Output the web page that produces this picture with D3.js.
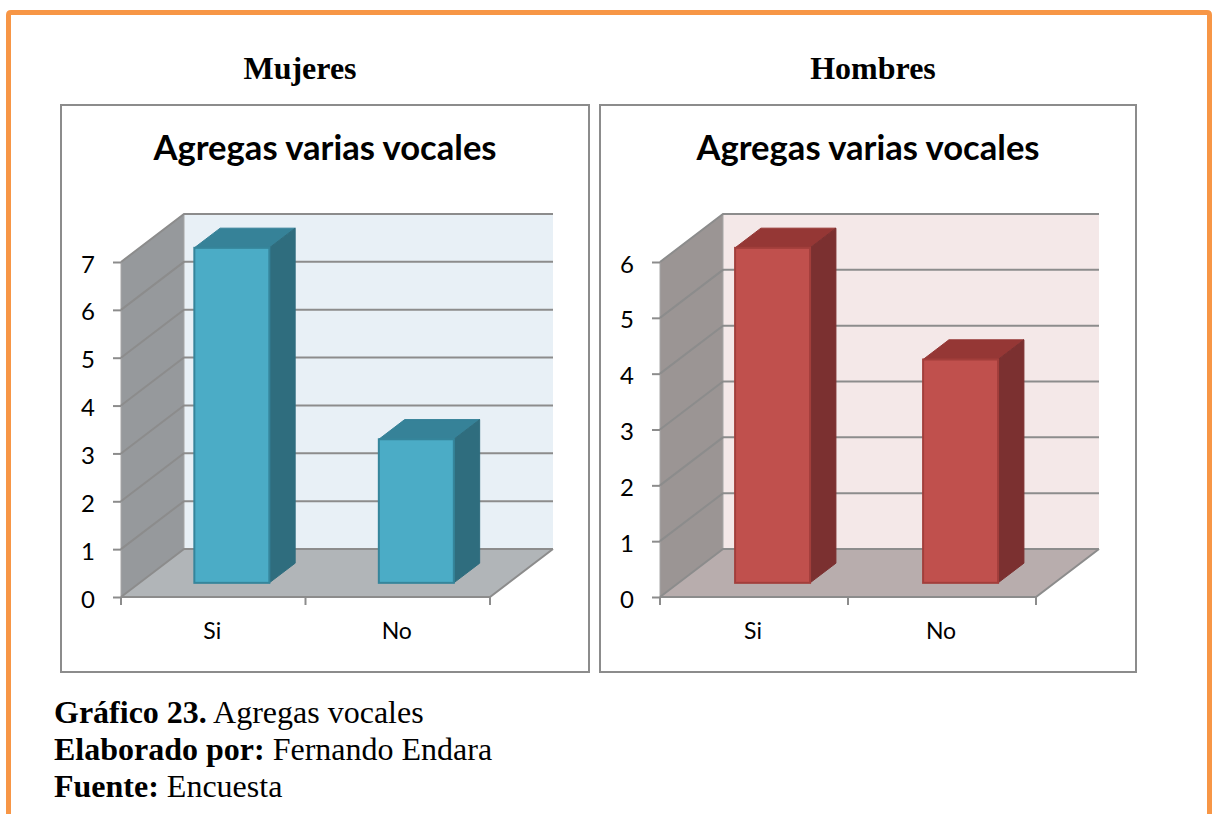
<!DOCTYPE html>
<html>
<head>
<meta charset="utf-8">
<script src="https://cdn.jsdelivr.net/npm/d3@7"></script>
<style>
  html, body { margin: 0; padding: 0; background: #fff; overflow: hidden; }
  svg { display: block; }
</style>
</head>
<body>
<svg id="page" width="1213" height="814"></svg>
<script>
// data
const categories = ["Si", "No"];
const mujeresValues = [7, 3];
const hombresValues = [6, 4];
const mujeresTicks = [0, 1, 2, 3, 4, 5, 6, 7];
const hombresTicks = [0, 1, 2, 3, 4, 5, 6];
const chartTitle = "Agregas varias vocales";

const svg = d3.select("#page");
const gridColor = "#8c8c8c";

// orange page frame, runs off the bottom of the page
svg.append("path")
    .attr("d", "M8.5,830 V15 Q8.5,12.5 11,12.5 H1207 Q1209.5,12.5 1209.5,15 V830")
    .attr("fill", "none")
    .attr("stroke", "#F79646")
    .attr("stroke-width", 5);

function heading(text, x) {
    svg.append("text")
        .attr("x", x).attr("y", 79)
        .attr("text-anchor", "middle")
        .style("font", "bold 32px 'Liberation Serif'")
        .style("fill", "#000")
        .text(text);
}
heading("Mujeres", 300);
heading("Hombres", 873);

/**
 * Draw one fake-3D column chart panel.
 */
function drawChart(opts) {
    let g = svg.append("g");
    let depthX = 63, depthY = -48;   // how far the back wall is shifted
    let barDepth = 0.41;             // share of the floor taken by the bar
    let barStart = 0.295;            // where the bar sits on the floor

    let xScale = d3.scaleBand().domain(categories).range([opts.x0, opts.x1]);
    let yScale = d3.scaleLinear().domain([0, d3.max(opts.ticks)]).range([597, 262]);

    g.append("rect")
        .attr("x", opts.px).attr("y", 105)
        .attr("width", opts.pw).attr("height", 567)
        .attr("fill", "#fff").attr("stroke", gridColor).attr("stroke-width", 2);

    g.append("text")
        .attr("x", opts.px + opts.titleDx).attr("y", 160)
        .attr("text-anchor", "middle")
        .style("font", "bold 34.6px Lato")
        .style("fill", "#000")
        .text(chartTitle);

    let y0 = yScale(0), yTop = yScale(d3.max(opts.ticks));
    let line = (pts) => "M" + pts.map(p => p.join(",")).join("L") + "Z";

    // back wall
    g.append("rect")
        .attr("x", opts.x0 + depthX).attr("y", yTop + depthY)
        .attr("width", opts.x1 - opts.x0).attr("height", y0 - yTop)
        .attr("fill", opts.backFill);
    // side wall
    g.append("path")
        .attr("d", line([[opts.x0, y0], [opts.x0 + depthX, y0 + depthY], [opts.x0 + depthX, yTop + depthY], [opts.x0, yTop]]))
        .attr("fill", opts.sideFill).attr("stroke", "#a6a6a6").attr("stroke-width", 1);
    // floor
    g.append("path")
        .attr("d", line([[opts.x0, y0], [opts.x0 + depthX, y0 + depthY], [opts.x1 + depthX, y0 + depthY], [opts.x1, y0]]))
        .attr("fill", opts.floorFill);

    // gridlines, wall part and back part
    g.selectAll(".grid").data(opts.ticks).enter().append("path")
        .attr("d", d => {
            let y = yScale(d);
            return "M" + opts.x0 + "," + y + "L" + (opts.x0 + depthX) + "," + (y + depthY) + "H" + (opts.x1 + depthX);
        })
        .attr("fill", "none").attr("stroke", gridColor).attr("stroke-width", 2);

    // floor front and right edge
    g.append("path")
        .attr("d", "M" + opts.x0 + "," + y0 + "H" + opts.x1 + "L" + (opts.x1 + depthX) + "," + (y0 + depthY))
        .attr("fill", "none").attr("stroke", gridColor).attr("stroke-width", 2);

    // bars
    let barW = 75;
    let shiftX = depthX * barStart, shiftY = depthY * barStart;
    let sideX = depthX * barDepth, sideY = depthY * barDepth;
    let bars = g.selectAll(".bar").data(opts.values).enter().append("g");
    let left = (d, i) => xScale(categories[i]) + xScale.bandwidth() / 2 - barW / 2 + shiftX;

    bars.append("path")   // top
        .attr("d", (d, i) => {
            let x = left(d, i), y = yScale(d) + shiftY;
            return line([[x, y], [x + sideX, y + sideY], [x + barW + sideX, y + sideY], [x + barW, y]]);
        })
        .attr("fill", opts.topFill).attr("stroke", opts.topFill).attr("stroke-width", 1);
    bars.append("path")   // side
        .attr("d", (d, i) => {
            let x = left(d, i) + barW, y = yScale(d) + shiftY, b = y0 + shiftY;
            return line([[x, y], [x + sideX, y + sideY], [x + sideX, b + sideY], [x, b]]);
        })
        .attr("fill", opts.darkFill).attr("stroke", opts.darkFill).attr("stroke-width", 1);
    bars.append("rect")   // front
        .attr("x", (d, i) => left(d, i))
        .attr("y", d => yScale(d) + shiftY)
        .attr("width", barW)
        .attr("height", d => y0 - yScale(d))
        .attr("fill", opts.barFill).attr("stroke", opts.barStroke).attr("stroke-width", 2);

    // y axis
    let yAxis = d3.axisLeft(yScale).tickValues(opts.ticks).tickSize(8).tickPadding(18).tickFormat(d3.format("d"));
    let yG = g.append("g").attr("transform", "translate(" + opts.x0 + ",0)").call(yAxis);
    yG.select(".domain").remove();
    yG.selectAll("line").attr("stroke", gridColor).attr("stroke-width", 2);
    yG.selectAll("text").style("font", "24px Lato").style("fill", "#000").attr("dy", "0.42em");

    // x axis: ticks sit between the categories
    let edges = [opts.x0, opts.x0 + xScale.step(), opts.x1];
    g.selectAll(".xtick").data(edges).enter().append("line")
        .attr("x1", d => d).attr("x2", d => d)
        .attr("y1", y0).attr("y2", y0 + 8)
        .attr("stroke", gridColor).attr("stroke-width", 2);
    g.selectAll(".xlab").data(categories).enter().append("text")
        .attr("x", d => xScale(d) + xScale.bandwidth() / 2 - 1)
        .attr("y", 639)
        .attr("text-anchor", "middle")
        .style("font", "23px Lato")
        .style("fill", "#000")
        .text(d => d);
}

drawChart({
    px: 61, pw: 528, titleDx: 264, x0: 121, x1: 490,
    values: mujeresValues, ticks: mujeresTicks,
    backFill: "#E8F0F6", sideFill: "#96999C", floorFill: "#B1B5B8",
    barFill: "#4BACC6", barStroke: "#35859B", topFill: "#368298", darkFill: "#2F6D7E"
});
drawChart({
    px: 600, pw: 536, titleDx: 268, x0: 660, x1: 1036,
    values: hombresValues, ticks: hombresTicks,
    backFill: "#F4E8E8", sideFill: "#9B9594", floorFill: "#B8ADAD",
    barFill: "#C0504D", barStroke: "#A23E3B", topFill: "#953735", darkFill: "#7B3030"
});

// caption
const captionLines = [
    ["Gráfico 23.", " Agregas vocales", 723],
    ["Elaborado por:", " Fernando Endara", 760],
    ["Fuente:", " Encuesta", 797]
];
captionLines.forEach(function (c) {
    let t = svg.append("text").attr("x", 54).attr("y", c[2])
        .style("font", "32px 'Liberation Serif'").style("fill", "#000");
    t.append("tspan").style("font-weight", "bold").text(c[0]);
    t.append("tspan").attr("xml:space", "preserve").text(c[1]);
});
</script>
</body>
</html>
